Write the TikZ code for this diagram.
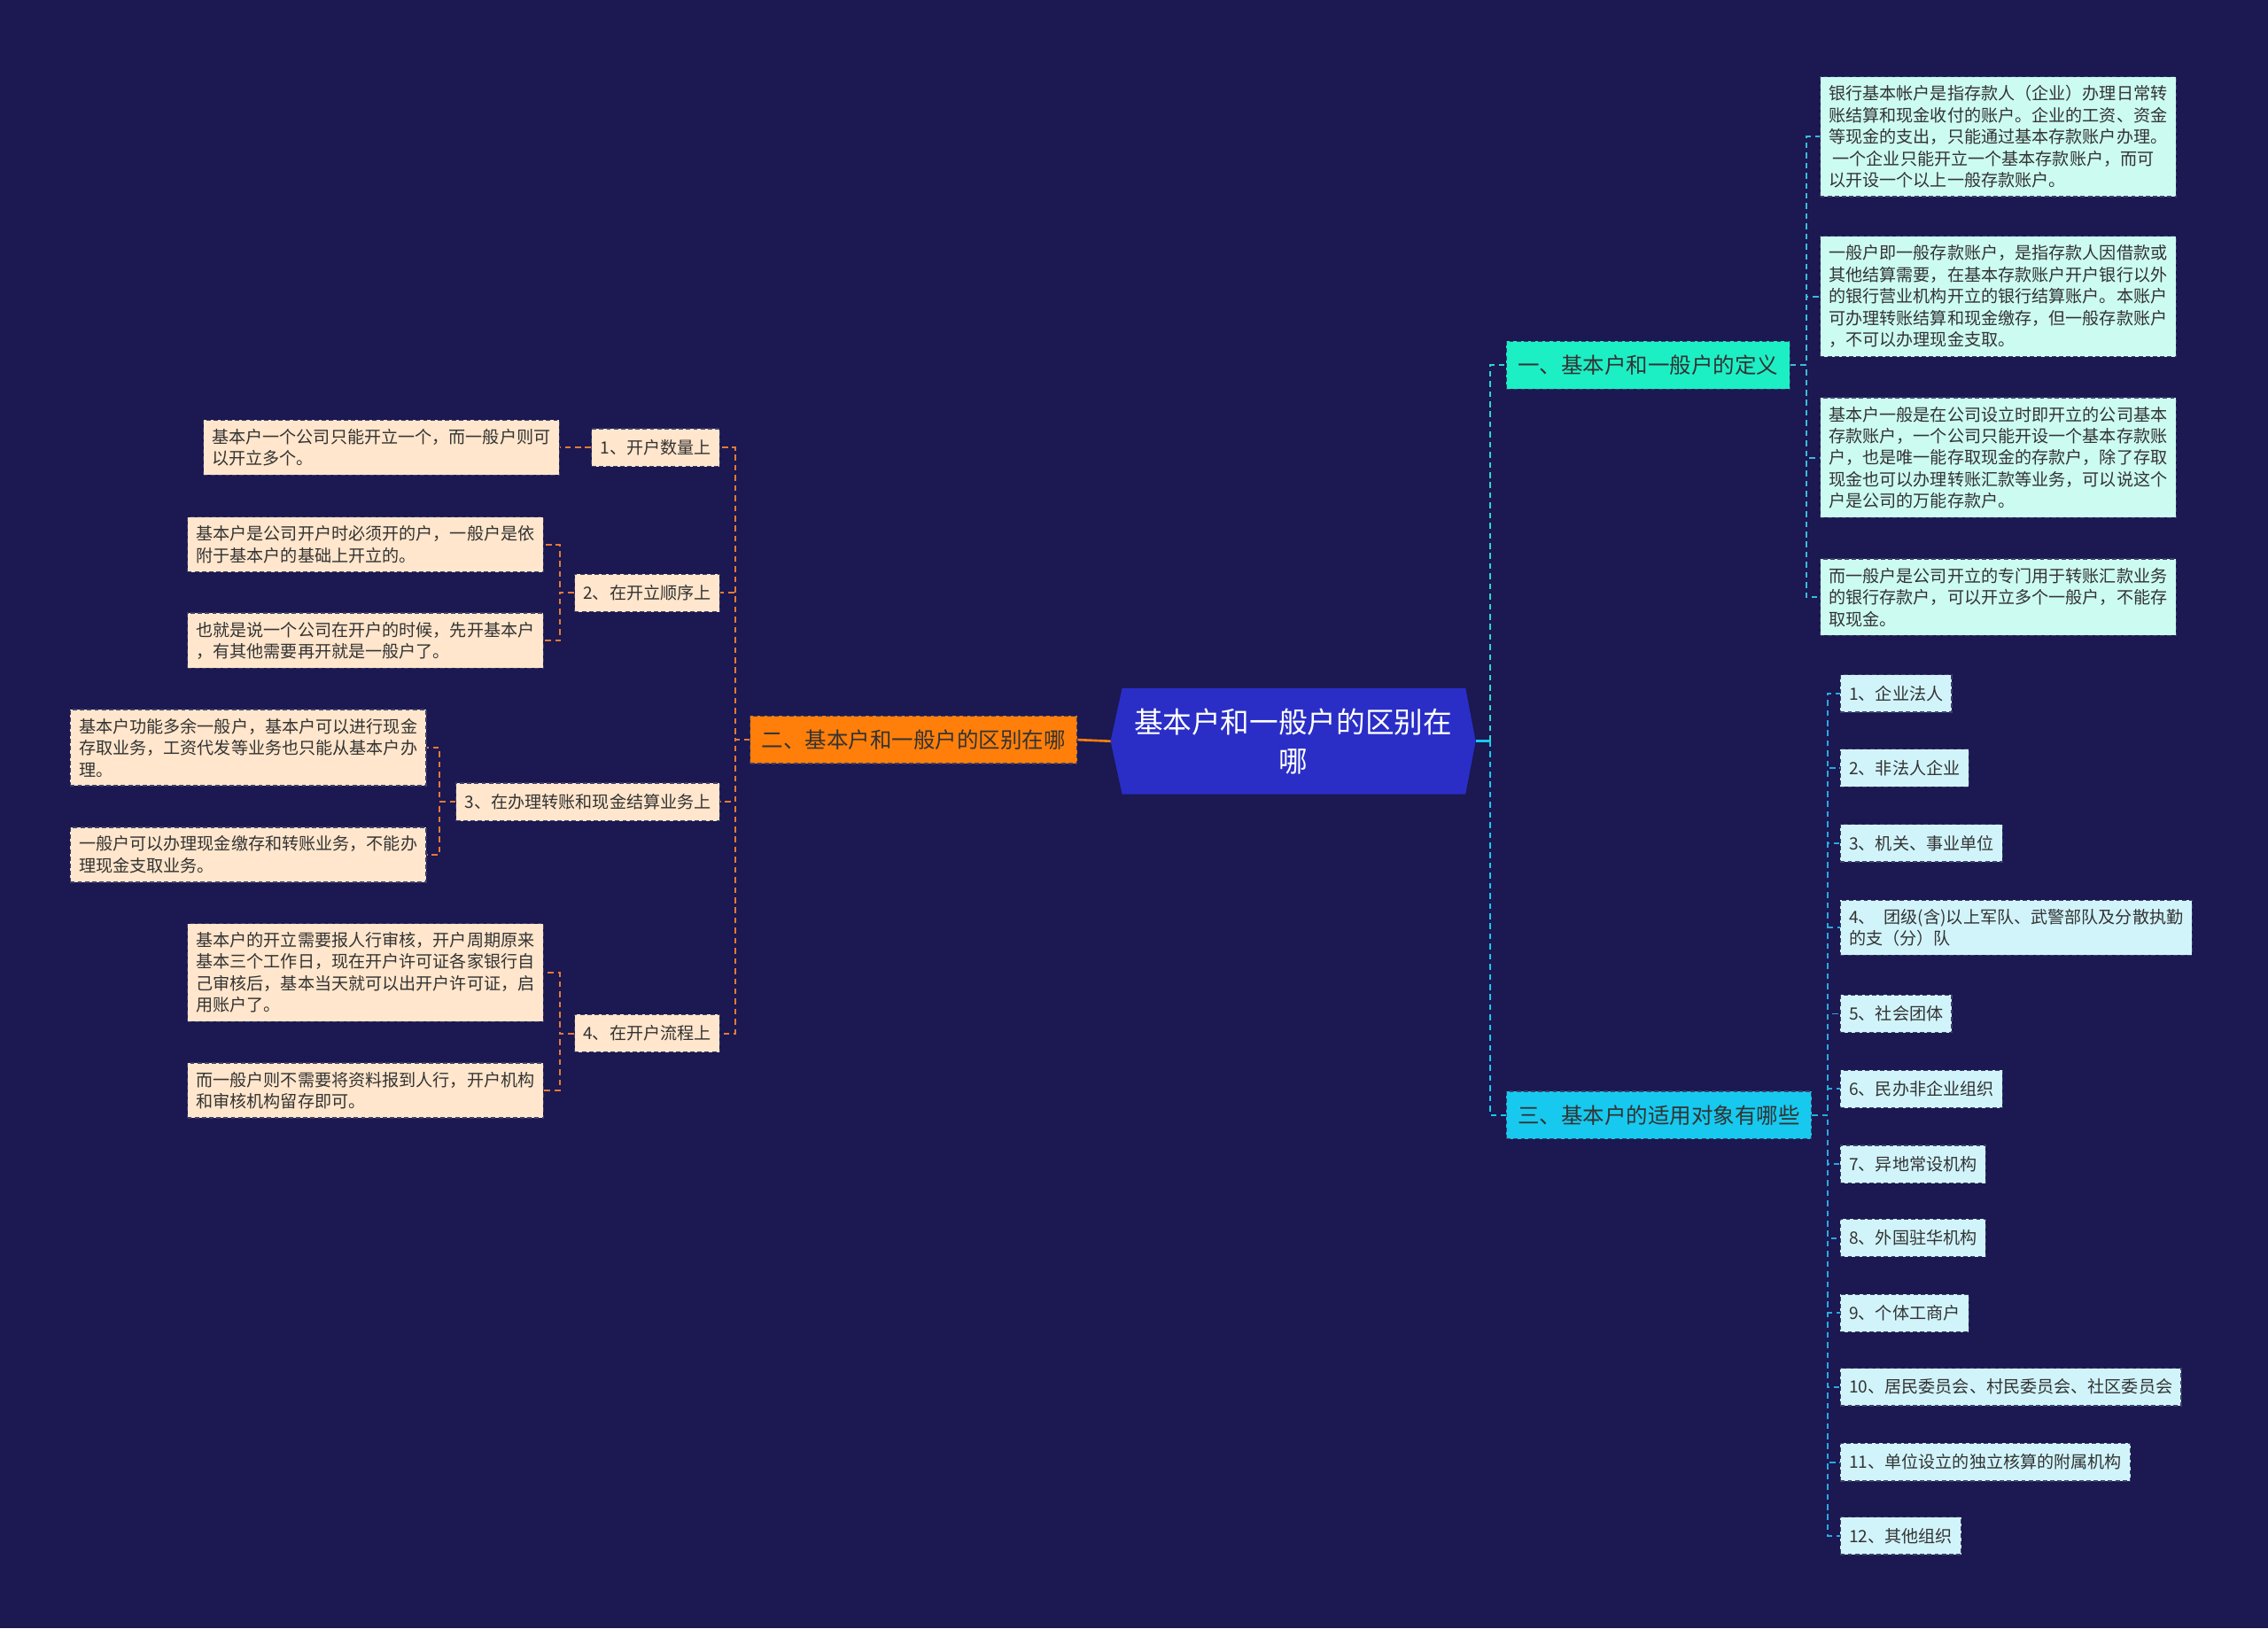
\documentclass[tikz,border=0pt]{standalone}
\usepackage{fontspec}
\setmainfont{Noto Sans CJK SC}
\usetikzlibrary{calc,backgrounds}
\definecolor{bgNavy}{HTML}{1B1852}
\definecolor{rootBlue}{HTML}{2A2EC6}
\definecolor{defGreen}{HTML}{1DEFC5}
\definecolor{appCyan}{HTML}{17C9EF}
\definecolor{diffOrange}{HTML}{FF7F0A}
\definecolor{defLeaf}{HTML}{CCFBF1}
\definecolor{appLeaf}{HTML}{D1F4FB}
\definecolor{diffLeaf}{HTML}{FFE6CC}
\definecolor{boxEdge}{HTML}{3C3F66}
\definecolor{tealLine}{HTML}{2BD8CC}
\definecolor{defLine}{HTML}{3BBCD8}
\definecolor{appLine}{HTML}{2AA9E0}
\definecolor{diffLine}{HTML}{E57A35}
\definecolor{inkDark}{HTML}{333333}
\newcommand{\leafFont}[0]{\fontsize{11.7}{15}\selectfont}
\newcommand{\branchFont}[0]{\fontsize{15}{18}\selectfont}
\newcommand{\rootFont}[0]{\fontsize{20}{27}\selectfont}

\begin{document}
\begin{tikzpicture}[x=1pt, y=-1pt]
  \tikzset{
    box/.style={rectangle, draw=boxEdge, line width=0.8pt, dash pattern=on 3pt off 2pt,
      text=inkDark, align=left, inner xsep=6pt, inner ysep=6pt},
    leafbox/.style={box, font=\leafFont},
    itembox/.style={box, font=\leafFont, minimum height=26pt, inner ysep=3pt},
    branchbox/.style={box, font=\branchFont, minimum height=33pt, inner xsep=8pt, inner ysep=3pt},
    rootnode/.style={font=\rootFont, text=white, align=center, minimum width=252pt, minimum height=73pt},
    link/.style={line width=1.2pt, dash pattern=on 4pt off 3pt}
  }
  \useasboundingbox (0,0) rectangle (1568,1126);

  \node[rootnode] (root) at (894,512.5) {基本户和一般户的区别在\\哪};
  \begin{scope}[on background layer]
    \fill[bgNavy] (0,0) rectangle (1568,1126);
    \fill[rootBlue] ($(root.north west)+(8,0)$) -- ($(root.north east)+(-7,0)$) -- (root.east)
      -- ($(root.south east)+(-7,0)$) -- ($(root.south west)+(8,0)$) -- (root.west) -- cycle;
  \end{scope}

  \node[branchbox, fill=defGreen, anchor=west] (defbr) at (1041,252.5) {一、基本户和一般户的定义};
  \node[branchbox, fill=appCyan, anchor=west] (appbr) at (1041,771) {三、基本户的适用对象有哪些};
  \node[branchbox, fill=diffOrange, anchor=east] (diffbr) at (745,511.5) {二、基本户和一般户的区别在哪};

  \node[leafbox, fill=defLeaf, anchor=west] (d1) at (1258,94.5) {银行基本帐户是指存款人（企业）办理日常转\\账结算和现金收付的账户。企业的工资、资金\\等现金的支出，只能通过基本存款账户办理。\\\ 一个企业只能开立一个基本存款账户，而可\\以开设一个以上一般存款账户。};
  \node[leafbox, fill=defLeaf, anchor=west] (d2) at (1258,205) {一般户即一般存款账户，是指存款人因借款或\\其他结算需要，在基本存款账户开户银行以外\\的银行营业机构开立的银行结算账户。本账户\\可办理转账结算和现金缴存，但一般存款账户\\，不可以办理现金支取。};
  \node[leafbox, fill=defLeaf, anchor=west] (d3) at (1258,316.5) {基本户一般是在公司设立时即开立的公司基本\\存款账户，一个公司只能开设一个基本存款账\\户，也是唯一能存取现金的存款户，除了存取\\现金也可以办理转账汇款等业务，可以说这个\\户是公司的万能存款户。};
  \node[leafbox, fill=defLeaf, anchor=west] (d4) at (1258,413) {而一般户是公司开立的专门用于转账汇款业务\\的银行存款户，可以开立多个一般户，不能存\\取现金。};

  \node[itembox, fill=appLeaf, anchor=west] (a1) at (1272,479.5) {1、企业法人};
  \node[itembox, fill=appLeaf, anchor=west] (a2) at (1272,531) {2、非法人企业};
  \node[itembox, fill=appLeaf, anchor=west] (a3) at (1272,583) {3、机关、事业单位};
  \node[leafbox, fill=appLeaf, anchor=west] (a4) at (1272,641.5) {4、\hspace{6pt}团级(含)以上军队、武警部队及分散执勤\\的支（分）队};
  \node[itembox, fill=appLeaf, anchor=west] (a5) at (1272,701) {5、社会团体};
  \node[itembox, fill=appLeaf, anchor=west] (a6) at (1272,753) {6、民办非企业组织};
  \node[itembox, fill=appLeaf, anchor=west] (a7) at (1272,805) {7、异地常设机构};
  \node[itembox, fill=appLeaf, anchor=west] (a8) at (1272,856) {8、外国驻华机构};
  \node[itembox, fill=appLeaf, anchor=west] (a9) at (1272,908) {9、个体工商户};
  \node[itembox, fill=appLeaf, anchor=west] (a10) at (1272,959) {10、居民委员会、村民委员会、社区委员会};
  \node[itembox, fill=appLeaf, anchor=west] (a11) at (1272,1011) {11、单位设立的独立核算的附属机构};
  \node[itembox, fill=appLeaf, anchor=west] (a12) at (1272,1062) {12、其他组织};

  \node[itembox, fill=diffLeaf, anchor=east] (s1) at (498,309.5) {1、开户数量上};
  \node[itembox, fill=diffLeaf, anchor=east] (s2) at (498,410) {2、在开立顺序上};
  \node[itembox, fill=diffLeaf, anchor=east] (s3) at (498,554.5) {3、在办理转账和现金结算业务上};
  \node[itembox, fill=diffLeaf, anchor=east] (s4) at (498,714.5) {4、在开户流程上};

  \node[leafbox, fill=diffLeaf, anchor=east] (l1) at (387,309.5) {基本户一个公司只能开立一个，而一般户则可\\以开立多个。};
  \node[leafbox, fill=diffLeaf, anchor=east] (l2a) at (376,376.5) {基本户是公司开户时必须开的户，一般户是依\\附于基本户的基础上开立的。};
  \node[leafbox, fill=diffLeaf, anchor=east] (l2b) at (376,443) {也就是说一个公司在开户的时候，先开基本户\\，有其他需要再开就是一般户了。};
  \node[leafbox, fill=diffLeaf, anchor=east] (l3a) at (295,517) {基本户功能多余一般户，基本户可以进行现金\\存取业务，工资代发等业务也只能从基本户办\\理。};
  \node[leafbox, fill=diffLeaf, anchor=east] (l3b) at (295,591) {一般户可以办理现金缴存和转账业务，不能办\\理现金支取业务。};
  \node[leafbox, fill=diffLeaf, anchor=east] (l4a) at (376,672.5) {基本户的开立需要报人行审核，开户周期原来\\基本三个工作日，现在开户许可证各家银行自\\己审核后，基本当天就可以出开户许可证，启\\用账户了。};
  \node[leafbox, fill=diffLeaf, anchor=east] (l4b) at (376,754) {而一般户则不需要将资料报到人行，开户机构\\和审核机构留存即可。};

  \draw[line width=1.6pt, appCyan] (root.east) -- ++(10,0) coordinate (rj);
  \draw[link, tealLine] (rj) |- (defbr.west);
  \draw[link, appCyan] (rj) |- (appbr.west);
  \draw[line width=1.6pt, diffOrange] (root.west) -- (diffbr.east);

  \foreach \n in {d1,d2,d3,d4}
    \draw[link, defLine] (defbr.east) -- ++(11,0) |- (\n.west);
  \foreach \n in {a1,a2,a3,a4,a5,a6,a7,a8,a9,a10,a11,a12}
    \draw[link, appLine] (appbr.east) -- ++(11,0) |- (\n.west);
  \foreach \n in {s1,s2,s3,s4}
    \draw[link, diffLine] (diffbr.west) -- ++(-10,0) |- (\n.east);

  \draw[link, diffLine] (s1.west) -- (l1.east);
  \foreach \n in {l2a,l2b}
    \draw[link, diffLine] (s2.west) -- ++(-10,0) |- (\n.east);
  \foreach \n in {l3a,l3b}
    \draw[link, diffLine] (s3.west) -- ++(-11,0) |- (\n.east);
  \foreach \n in {l4a,l4b}
    \draw[link, diffLine] (s4.west) -- ++(-10,0) |- (\n.east);
\end{tikzpicture}
\end{document}
